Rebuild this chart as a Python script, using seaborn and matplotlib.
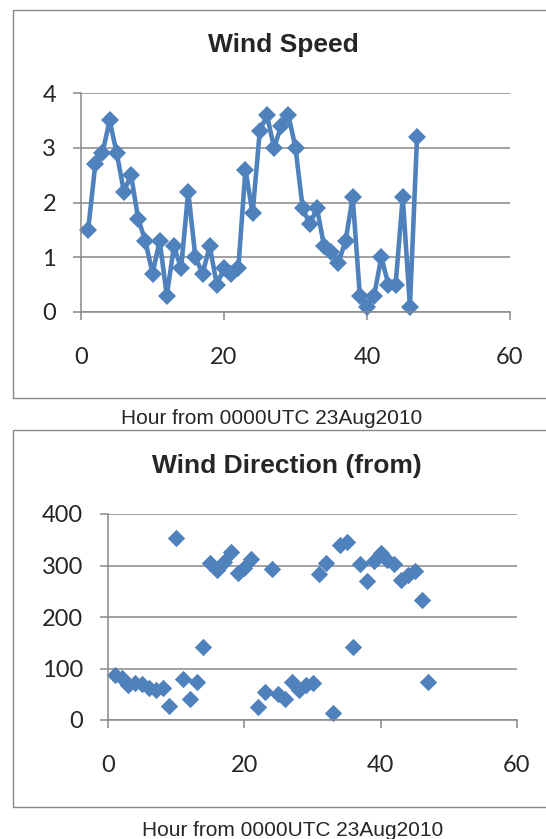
import matplotlib
matplotlib.use("Agg")
import matplotlib.pyplot as plt
import seaborn as sns
import pandas as pd
from matplotlib.patches import Rectangle

hours = list(range(1, 48))
wind_speed = [1.5, 2.7, 2.9, 3.5, 2.9, 2.2, 2.5, 1.7, 1.3, 0.7,
              1.3, 0.3, 1.2, 0.8, 2.2, 1.0, 0.7, 1.2, 0.5, 0.8,
              0.7, 0.8, 2.6, 1.8, 3.3, 3.6, 3.0, 3.4, 3.6, 3.0,
              1.9, 1.6, 1.9, 1.2, 1.1, 0.9, 1.3, 2.1, 0.3, 0.1,
              0.3, 1.0, 0.5, 0.5, 2.1, 0.1, 3.2]
wind_dir = [87, 82, 68, 72, 70, 62, 58, 62, 27, 353,
            80, 40, 74, 142, 305, 291, 307, 326, 286, 295,
            313, 25, 55, 293, 50, 40, 74, 58, 68, 72,
            284, 305, 13, 340, 346, 141, 303, 270, 308, 325,
            310, 303, 272, 282, 290, 233, 74]

title_top = "Wind Speed"
title_bottom = "Wind Direction (from)"
xlabel = "Hour from 0000UTC 23Aug2010"
speed_ticks = [0, 1, 2, 3, 4]
dir_ticks = [0, 100, 200, 300, 400]
x_ticks = [0, 20, 40, 60]

df = pd.DataFrame({"hour": hours, "speed": wind_speed, "dir": wind_dir})

sns.set_style("white")
plt.rcParams["font.family"] = ["Liberation Sans", "DejaVu Sans"]

W, H = 546, 839
fig = plt.figure(figsize=(W / 100, H / 100), dpi=100)

BLUE = "#4F81BD"
GRAY = "#888888"
TICKFONT = "Lato"


def fx(px):
    return px / W


def fy(py):
    return 1 - py / H


# frames
for (top, bot) in [(10, 398), (430, 807)]:
    fig.patches.append(Rectangle((fx(13), fy(bot)), fx(560) - fx(13), fy(top) - fy(bot),
                                 transform=fig.transFigure, fill=False,
                                 edgecolor=GRAY, linewidth=1.0))


def style_axes(ax, yticks, ylim):
    ax.set_xlim(0, 60)
    ax.set_ylim(*ylim)
    ax.set_xticks(x_ticks)
    ax.set_yticks(yticks)
    ax.set_xticklabels([str(t) for t in x_ticks], fontfamily=TICKFONT, fontsize=17)
    ax.set_yticklabels([str(t) for t in yticks], fontfamily=TICKFONT, fontsize=17)
    ax.grid(axis="y", color=GRAY, linewidth=1.1)
    ax.set_axisbelow(True)
    for s in ["top", "right"]:
        ax.spines[s].set_visible(False)
    for s in ["left", "bottom"]:
        ax.spines[s].set_color(GRAY)
        ax.spines[s].set_linewidth(1.1)
    ax.tick_params(axis="x", direction="out", length=6, width=1.1, color=GRAY, pad=19, bottom=True)
    ax.tick_params(axis="y", direction="out", length=6, width=1.1, color=GRAY, pad=12, left=True)
    ax.set_xlabel("")
    ax.set_ylabel("")
    ax.patch.set_alpha(0)


# top chart
ax1 = fig.add_axes([fx(81), fy(312), fx(510) - fx(81), fy(93) - fy(312)])
sns.lineplot(data=df, x="hour", y="speed", ax=ax1, color=BLUE, linewidth=3.3,
             marker="D", markersize=9, markeredgewidth=0, clip_on=False)
style_axes(ax1, speed_ticks, (0, 4))

# bottom chart
ax2 = fig.add_axes([fx(108), fy(720), fx(517) - fx(108), fy(514) - fy(720)])
sns.scatterplot(data=df, x="hour", y="dir", ax=ax2, color=BLUE, marker="D",
                s=78, linewidth=0, clip_on=False)
style_axes(ax2, dir_ticks, (0, 400))

fig.text(fx(283), fy(45), title_top, ha="center", va="center", fontsize=19, fontweight="bold")
fig.text(fx(287), fy(466), title_bottom, ha="center", va="center", fontsize=19, fontweight="bold")
fig.text(fx(272), fy(419), xlabel, ha="center", va="center", fontsize=15)
fig.text(fx(293), fy(830), xlabel, ha="center", va="center", fontsize=15)

fig.savefig("out.png", dpi=100)
